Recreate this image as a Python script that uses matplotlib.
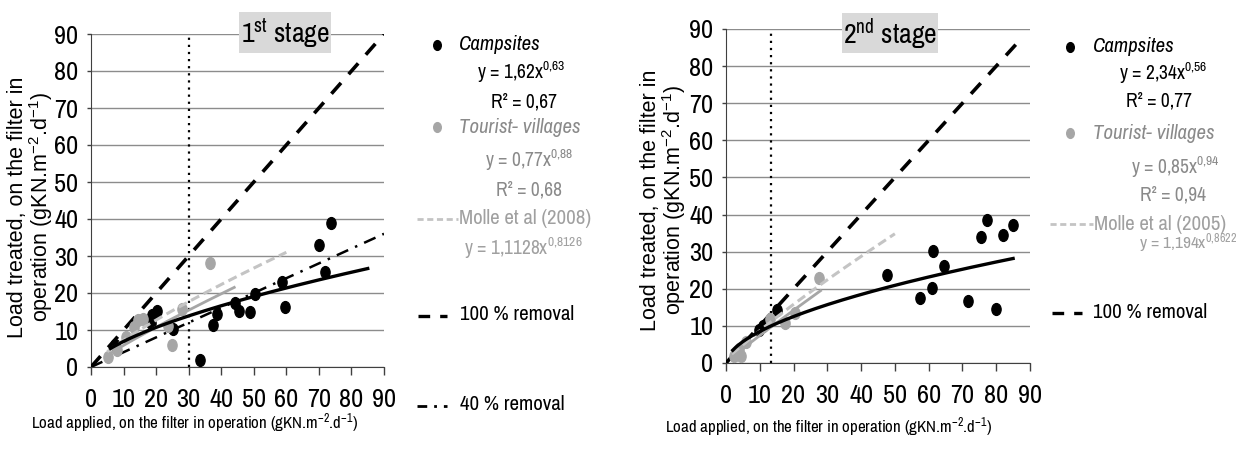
import matplotlib
matplotlib.use('Agg')
import matplotlib.pyplot as plt
import numpy as np
from matplotlib import font_manager
from matplotlib.path import Path
from matplotlib.lines import Line2D
from matplotlib.patches import Rectangle

names = {f.name for f in font_manager.fontManager.ttflist}
NARROW = next((n for n in ['Liberation Sans Narrow', 'Arial Narrow', 'Archivo Narrow', 'Roboto Condensed',
                           'PT Sans Narrow', 'Liberation Sans'] if n in names), 'DejaVu Sans')
REG = next((n for n in ['Liberation Sans', 'Arimo', 'DejaVu Sans'] if n in names), 'DejaVu Sans')
plt.rcParams['font.family'] = [NARROW, 'DejaVu Sans']
plt.rcParams['mathtext.default'] = 'regular'

# ---------------- data ----------------
# 1st stage
s1_camp_x = [7.5, 18.3, 18.8, 20.2, 25.3, 33.5, 37.5, 38.8, 44.3, 45.4, 48.8, 50.5, 58.8, 59.7, 69.9, 72.0, 73.8]
s1_camp_y = [6.0, 11.8, 14.0, 15.2, 10.3, 1.9, 11.4, 14.4, 17.3, 15.2, 14.9, 19.8, 23.0, 16.2, 33.1, 25.7, 39.0]
s1_tour_x = [5.3, 7.9, 10.7, 13.2, 14.3, 16.1, 23.5, 24.8, 27.8, 36.7]
s1_tour_y = [2.8, 4.6, 8.0, 10.9, 12.7, 13.1, 11.0, 5.9, 15.8, 28.0]
# 2nd stage
s2_camp_x = [9.7, 10.9, 15.1, 47.8, 57.5, 61.1, 61.4, 64.6, 71.7, 75.5, 77.4, 80.0, 81.9, 85.1]
s2_camp_y = [9.0, 10.1, 14.2, 23.7, 17.5, 20.2, 30.1, 26.1, 16.6, 34.0, 38.6, 14.6, 34.4, 37.1]
s2_tour_x = [2.5, 3.2, 3.8, 4.5, 6.0, 13.1, 17.6, 20.5, 27.6]
s2_tour_y = [2.0, 3.0, 3.8, 1.8, 5.6, 11.8, 10.8, 13.5, 22.9]

# power-law fits y = a * x^b  (coefficients as printed), with x-range drawn
s1_camp_fit = (1.62, 0.63, 6, 85)
s1_tour_fit = (0.77, 0.88, 5, 44)
s1_molle_fit = (1.1128, 0.8126, 5, 60)
s2_camp_fit = (2.34, 0.56, 2, 85)
s2_tour_fit = (0.85, 0.94, 2, 28)
s2_molle_fit = (1.194, 0.8622, 2, 50)

s1_removal100 = [0, 90]
s1_removal40 = [0, 90]
s2_removal100 = [0, 88]
s1_vline = 30
s2_vline = 13.3

ticks = [0, 10, 20, 30, 40, 50, 60, 70, 80, 90]

# ---------------- style ----------------
W, H = 1237, 449
fig = plt.figure(figsize=(W / 100, H / 100), dpi=100)


def fx(px):
    return px / W


def fy(py):
    return 1 - py / H


BLACK = '#000000'
GRAY_PT = '#a6a6a6'
GRAY_TXT = '#8a8a8a'
MOLLE_TXT = '#a0a0a0'
MOLLE_LN = '#c4c4c4'
GRID = '#8c8c8c'

circ = Path.unit_circle()
ELL = Path(circ.vertices * np.array([0.78, 1.0]), circ.codes)


def curve(ax, fit, **kw):
    a, b, x0, x1 = fit
    xs = np.linspace(x0, x1, 200)
    ax.plot(xs, a * xs ** b, **kw)


def setup(ax, left_px, top_px, right_px, bottom_px):
    ax.set_position([fx(left_px), fy(bottom_px), (right_px - left_px) / W, (bottom_px - top_px) / H])
    ax.set_xlim(0, 90)
    ax.set_ylim(0, 90)
    ax.set_xticks(ticks)
    ax.set_yticks(ticks)
    ax.grid(axis='y', color=GRID, linewidth=1.0)
    ax.set_axisbelow(True)
    for s in ['top', 'right']:
        ax.spines[s].set_visible(False)
    ax.spines['left'].set_color('#404040')
    ax.spines['bottom'].set_color('#404040')
    ax.tick_params(axis='x', direction='out', length=6, width=1, pad=9, labelsize=19, colors='#404040', labelcolor='black')
    ax.tick_params(axis='y', direction='out', length=3, width=1, pad=6, labelsize=19, colors='#404040', labelcolor='black')


def draw_panel(ax, cx, cy, tx, ty, cfit, tfit, mfit, r100, r40, vline):
    ax.plot([vline, vline], [0, 90], color='black', linestyle=(0, (1, 2.2)), linewidth=1.6, zorder=2)
    ax.plot(r100, r100, color='black', linestyle=(0, (4, 3.2)), linewidth=2.6, zorder=3)
    if r40 is not None:
        ax.plot(r40, [0.4 * v for v in r40], color='black', linestyle=(0, (5, 3, 1, 3)), linewidth=1.8, zorder=3)
    ax.plot(cx, cy, linestyle='none', marker=ELL, markersize=8.5, color=BLACK, zorder=4)
    ax.plot(tx, ty, linestyle='none', marker=ELL, markersize=8.5, color=GRAY_PT, zorder=4)
    curve(ax, mfit, color=MOLLE_LN, linestyle=(0, (3, 1.6)), linewidth=2.2, zorder=5)
    curve(ax, tfit, color=GRAY_PT, linewidth=2.0, zorder=5)
    curve(ax, cfit, color='black', linewidth=2.4, zorder=6)


ax1 = fig.add_axes([0, 0, 1, 1])
setup(ax1, 91, 34, 384, 367)
draw_panel(ax1, s1_camp_x, s1_camp_y, s1_tour_x, s1_tour_y, s1_camp_fit, s1_tour_fit, s1_molle_fit,
           s1_removal100, s1_removal40, s1_vline)

ax2 = fig.add_axes([0, 0, 1, 1])
setup(ax2, 726, 29, 1030, 363)
draw_panel(ax2, s2_camp_x, s2_camp_y, s2_tour_x, s2_tour_y, s2_camp_fit, s2_tour_fit, s2_molle_fit,
           s2_removal100, None, s2_vline)

# ---------------- axis labels ----------------
YL = 'Load treated, on the filter in\noperation (gKN.m$^{-2}$.d$^{-1}$)'
for (xc, yc) in [(31, 207), (664, 200)]:
    fig.text(fx(xc), fy(yc), YL, rotation=90, ha='center', va='center', multialignment='center',
             linespacing=0.95, fontsize=15.5, family=[REG, 'DejaVu Sans'])

XL = 'Load applied, on the filter in operation (gKN.m$^{-2}$.d$^{-1}$)'
fig.text(fx(195), fy(423), XL, ha='center', va='center', fontsize=12.2)
fig.text(fx(829), fy(427), XL, ha='center', va='center', fontsize=12.2)

# ---------------- stage boxes ----------------
for (l, r, t, b, lab) in [(239, 331, 12, 53, '1$^{st}$ stage'), (842, 938, 13, 53, '2$^{nd}$ stage')]:
    fig.patches.append(Rectangle((fx(l), fy(b)), (r - l) / W, (b - t) / H, transform=fig.transFigure,
                                 facecolor='#d9d9d9', edgecolor='none', zorder=10))
    fig.text(fx((l + r) / 2), fy((t + b) / 2 + 1), lab, ha='center', va='center', fontsize=20, zorder=11)


# ---------------- legends ----------------
def bullet(xp, yp, color):
    fig.add_artist(Line2D([fx(xp)], [fy(yp)], marker=ELL, markersize=7, color=color, linestyle='none'))


def sample(x0, x1, yp, color, ls, lw):
    fig.add_artist(Line2D([fx(x0), fx(x1)], [fy(yp), fy(yp)], color=color, linestyle=ls, linewidth=lw))


LS = 15
ES = 14
# panel 1
bullet(437, 45, BLACK)
fig.text(fx(459), fy(45), 'Campsites', ha='left', va='center', fontsize=LS, style='italic')
fig.text(fx(521), fy(72), 'y = 1,62x$^{0{,}63}$', ha='center', va='center', fontsize=ES)
fig.text(fx(524), fy(102), 'R² = 0,67', ha='center', va='center', fontsize=ES)
bullet(437, 127, GRAY_PT)
fig.text(fx(459), fy(127), 'Tourist- villages', ha='left', va='center', fontsize=LS, style='italic', color=GRAY_TXT)
fig.text(fx(529), fy(160), 'y = 0,77x$^{0{,}88}$', ha='center', va='center', fontsize=ES, color=GRAY_TXT)
fig.text(fx(529), fy(190), 'R² = 0,68', ha='center', va='center', fontsize=ES, color=GRAY_TXT)
sample(417, 458, 219, MOLLE_LN, (0, (2.2, 1.3)), 2.0)
fig.text(fx(459), fy(219), 'Molle et al (2008)', ha='left', va='center', fontsize=LS, color=MOLLE_TXT)
fig.text(fx(523), fy(248), 'y = 1,1128x$^{0{,}8126}$', ha='center', va='center', fontsize=ES, color=MOLLE_TXT)
sample(418, 447, 316, 'black', (0, (3.5, 3.0)), 2.4)
fig.text(fx(460), fy(315), '100 % removal', ha='left', va='center', fontsize=LS)
sample(417, 447, 406, 'black', (0, (3.5, 2.5, 1, 2.5)), 2.0)
fig.text(fx(460), fy(405), '40 % removal', ha='left', va='center', fontsize=LS)

# panel 2
bullet(1070, 47, BLACK)
fig.text(fx(1093), fy(47), 'Campsites', ha='left', va='center', fontsize=LS, style='italic')
fig.text(fx(1163), fy(73), 'y = 2,34x$^{0{,}56}$', ha='center', va='center', fontsize=ES)
fig.text(fx(1159), fy(101), 'R² = 0,77', ha='center', va='center', fontsize=ES)
bullet(1070, 133, GRAY_PT)
fig.text(fx(1093), fy(133), 'Tourist- villages', ha='left', va='center', fontsize=LS, style='italic', color=GRAY_TXT)
fig.text(fx(1175), fy(167), 'y = 0,85x$^{0{,}94}$', ha='center', va='center', fontsize=ES, color=GRAY_TXT)
fig.text(fx(1173), fy(195), 'R² = 0,94', ha='center', va='center', fontsize=ES, color=GRAY_TXT)
sample(1050, 1093, 224, MOLLE_LN, (0, (2.2, 1.3)), 2.0)
fig.text(fx(1094), fy(224), 'Molle et al (2005)', ha='left', va='center', fontsize=LS, color=MOLLE_TXT)
fig.text(fx(1188), fy(243), 'y = 1,194x$^{0{,}8622}$', ha='center', va='center', fontsize=12.5, color=MOLLE_TXT)
sample(1052, 1082, 313, 'black', (0, (3.5, 3.0)), 2.4)
fig.text(fx(1093), fy(312), '100 % removal', ha='left', va='center', fontsize=LS)

fig.savefig('out.png', dpi=100, facecolor='white')
